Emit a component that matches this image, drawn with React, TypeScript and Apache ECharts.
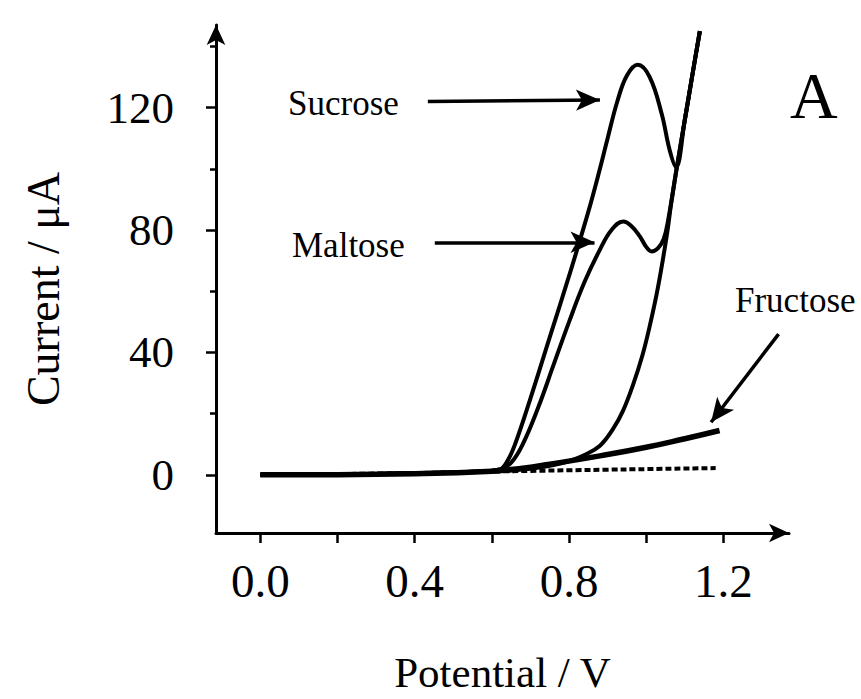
import React, { useEffect, useRef } from "react";
import * as echarts from "echarts";

// Potential (V) / Current (µA) pairs
const sucrose: [number, number][] = [
  [0, 0], [0.2, 0.2], [0.4, 0.5], [0.55, 1.0], [0.62, 1.8], [0.64, 4.5], [0.66, 10], [0.7, 25],
  [0.75, 45], [0.8, 65], [0.85, 86], [0.88, 100], [0.9, 110], [0.925, 122], [0.95, 130.5], [0.978, 134],
  [1.009, 130], [1.04, 118], [1.061, 106], [1.077, 100.6], [1.1, 116], [1.12, 131], [1.139, 145],
];
const maltose: [number, number][] = [
  [0, 0], [0.2, 0.2], [0.4, 0.5], [0.55, 1.0], [0.62, 1.8], [0.65, 4], [0.68, 10], [0.72, 22],
  [0.76, 36], [0.8, 50], [0.84, 63], [0.88, 73.6], [0.91, 80], [0.94, 82.8], [0.96, 81.5],
  [0.983, 78], [1.0, 74.5], [1.014, 73], [1.03, 74], [1.045, 77], [1.057, 83.4], [1.08, 101],
  [1.1, 116], [1.12, 131], [1.139, 145],
];
const third: [number, number][] = [
  [0, 0], [0.2, 0.2], [0.4, 0.5], [0.6, 1.1], [0.7, 2], [0.76, 3.2], [0.8, 4.5], [0.84, 6.5],
  [0.88, 9.5], [0.914, 15], [0.94, 21], [0.966, 29.5], [0.99, 39], [1.009, 48.6], [1.03, 61],
  [1.053, 78], [1.065, 89], [1.08, 101], [1.1, 116], [1.12, 131], [1.139, 145],
];
const fructose: [number, number][] = [
  [0, 0], [0.4, 0.4], [0.6, 1.2], [0.68, 2.2], [0.75, 3.5], [0.88, 6.2], [1.0, 9], [1.1, 11.8], [1.19, 14.5],
];
const blank: [number, number][] = [
  [0, 0], [0.4, 0.6], [0.7, 1.3], [1.18, 2.2],
];

const xTickValues = [0, 0.2, 0.4, 0.6, 0.8, 1.0, 1.2];
const xLabelValues = [0, 0.4, 0.8, 1.2];
const yMajorValues = [0, 40, 80, 120];
const yMinorValues = [20, 60, 100, 140];

// annotation arrows in data coordinates [from, to]
const sucroseArrow: [number, number][] = [[0.434, 122], [0.88, 122.5]];
const maltoseArrow: [number, number][] = [[0.452, 76], [0.866, 76]];
const fructoseArrow: [number, number][] = [[1.343, 46], [1.168, 17.2]];

const FONT = "'Liberation Serif', 'Times New Roman', serif";

export default function App() {
  const ref = useRef<HTMLDivElement>(null);
  useEffect(() => {
    if (!ref.current) return;
    const chart = echarts.init(ref.current, null, { renderer: "svg" });
    const lineStyleBase = { color: "#000", width: 4 };
    const arrowML = (pts: [number, number][]) => ({
      silent: true,
      symbol: ["none", "arrow"],
      symbolSize: [16, 24],
      label: { show: false },
      lineStyle: { color: "#000", width: 3.5, type: "solid" },
      data: [[{ coord: pts[0] }, { coord: pts[1] }]],
    });
    chart.setOption({
      animation: false,
      backgroundColor: "#fff",
      grid: { left: 216, right: 72, top: 25, bottom: 165, containLabel: false },
      xAxis: {
        type: "value",
        min: -0.115,
        max: 1.37,
        name: "Potential / V",
        nameLocation: "middle",
        nameGap: 118,
        nameTextStyle: { fontFamily: FONT, fontSize: 43, color: "#000" },
        axisLine: {
          onZero: false,
          lineStyle: { color: "#000", width: 3 },
          symbol: ["none", "arrow"],
          symbolSize: [14, 20],
        },
        axisTick: { show: true, inside: false, length: 10, customValues: xTickValues, lineStyle: { color: "#000", width: 2.5 } },
        axisLabel: {
          customValues: xLabelValues,
          margin: 24,
          fontFamily: FONT,
          fontSize: 47,
          color: "#000",
          formatter: (v: number) => v.toFixed(1),
        },
        splitLine: { show: false },
      },
      yAxis: [
        {
          type: "value",
          min: -19,
          max: 147,
          name: "Current / μA",
          nameLocation: "middle",
          nameGap: 150,
          nameTextStyle: { fontFamily: FONT, fontSize: 46, color: "#000", padding: [0, 20, 0, 0] },
          axisLine: {
            onZero: false,
            lineStyle: { color: "#000", width: 3 },
            symbol: ["none", "arrow"],
            symbolSize: [14, 20],
          },
          axisTick: { show: true, inside: false, length: 10, customValues: yMajorValues, lineStyle: { color: "#000", width: 2.5 } },
          axisLabel: { customValues: yMajorValues, margin: 42, fontFamily: FONT, fontSize: 45, color: "#000" },
          splitLine: { show: false },
        },
        {
          type: "value",
          min: -19,
          max: 147,
          position: "left",
          axisLine: { show: false, onZero: false },
          axisTick: { show: true, inside: false, length: 6, customValues: yMinorValues, lineStyle: { color: "#000", width: 2.5 } },
          axisLabel: { show: false },
          splitLine: { show: false },
        },
      ],
      series: [
        {
          name: "Blank",
          type: "line",
          data: blank,
          showSymbol: false,
          smooth: true,
          lineStyle: { color: "#000", width: 4, type: [6, 3] },
        },
        {
          name: "Fructose",
          type: "line",
          data: fructose,
          showSymbol: false,
          smooth: true,
          lineStyle: { color: "#000", width: 5.5 },
          markLine: arrowML(fructoseArrow),
        },
        {
          name: "Third",
          type: "line",
          data: third,
          showSymbol: false,
          smooth: 0.4,
          lineStyle: lineStyleBase,
        },
        {
          name: "Maltose",
          type: "line",
          data: maltose,
          showSymbol: false,
          smooth: 0.4,
          lineStyle: lineStyleBase,
          markLine: arrowML(maltoseArrow),
        },
        {
          name: "Sucrose",
          type: "line",
          data: sucrose,
          showSymbol: false,
          smooth: 0.4,
          lineStyle: lineStyleBase,
          markLine: arrowML(sucroseArrow),
        },
      ],
      graphic: [
        { type: "text", left: 288, top: 86, style: { text: "Sucrose", font: `35px ${FONT}`, fill: "#000" } },
        { type: "text", left: 292, top: 228, style: { text: "Maltose", font: `35px ${FONT}`, fill: "#000" } },
        { type: "text", left: 735, top: 283, style: { text: "Fructose", font: `35px ${FONT}`, fill: "#000" } },
        { type: "text", left: 790, top: 62, style: { text: "A", font: `66px ${FONT}`, fill: "#000" } },
      ],
    });
    return () => chart.dispose();
  }, []);
  return <div ref={ref} style={{ width: 861, height: 699, position: "absolute", left: 0, top: 0 }} />;
}
